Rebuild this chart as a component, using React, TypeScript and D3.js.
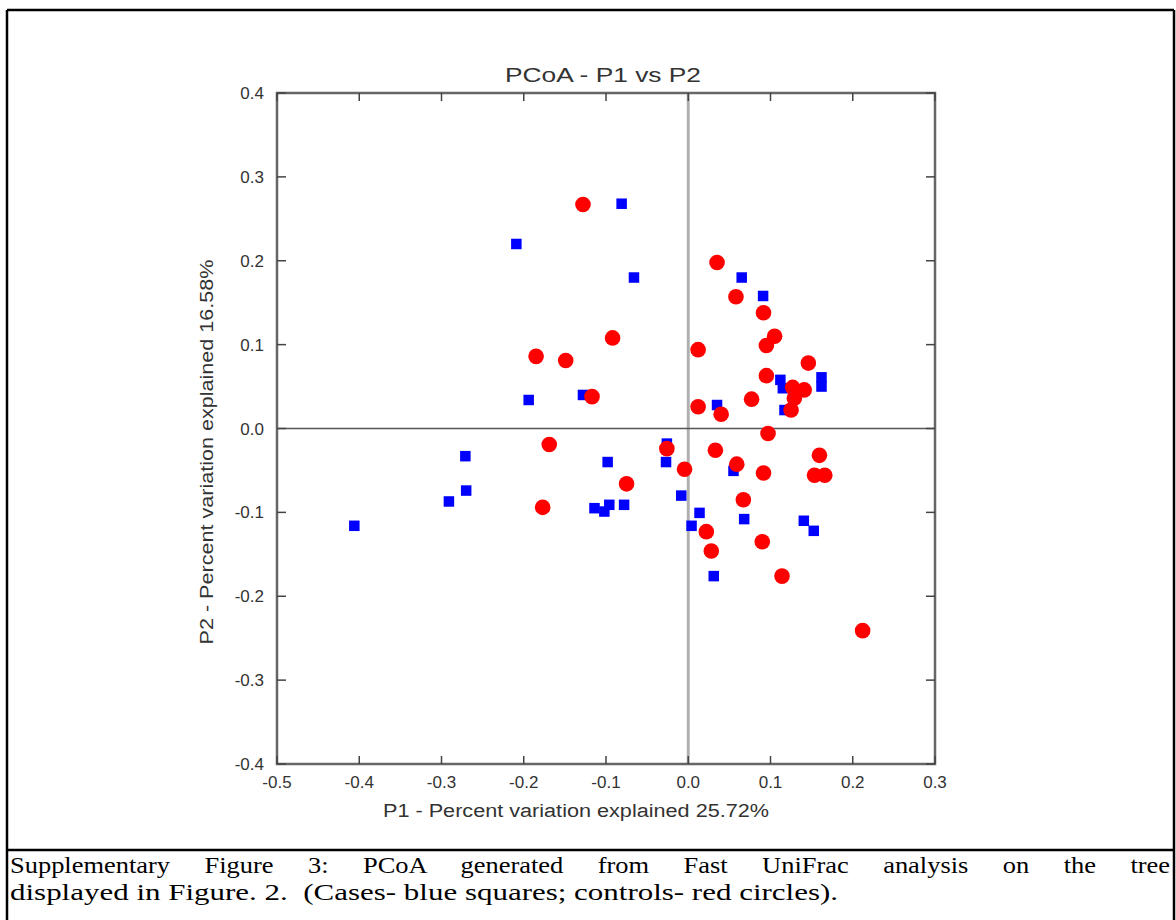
import React, { useEffect, useRef, useState } from "react";
import * as d3 from "d3";

const casesX = [-0.081, -0.209, -0.066, -0.194, -0.128, 0.065, 0.091, 0.112, 0.115, 0.162, 0.162, 0.117, 0.035, -0.271, -0.270, -0.291, -0.406, -0.098, -0.114, -0.102, -0.096, -0.078, -0.026, -0.027, -0.0085, 0.004, 0.0137, 0.055, 0.068, 0.1405, 0.1526, 0.031];
const casesY = [0.268, 0.220, 0.180, 0.034, 0.040, 0.180, 0.158, 0.058, 0.048, 0.061, 0.050, 0.022, 0.028, -0.033, -0.074, -0.087, -0.116, -0.040, -0.095, -0.099, -0.091, -0.091, -0.018, -0.040, -0.080, -0.116, -0.1006, -0.0505, -0.108, -0.110, -0.122, -0.176];

const controlsX = [-0.128, -0.092, -0.185, -0.149, -0.117, 0.035, 0.058, 0.0915, 0.105, 0.095, 0.012, 0.146, 0.095, 0.127, 0.141, 0.129, 0.125, 0.077, 0.012, 0.040, 0.097, -0.169, -0.177, -0.075, -0.026, -0.0045, 0.033, 0.059, 0.0915, 0.1595, 0.1535, 0.166, 0.067, 0.022, 0.090, 0.028, 0.114, 0.212];
const controlsY = [0.267, 0.108, 0.086, 0.081, 0.038, 0.198, 0.157, 0.138, 0.110, 0.099, 0.094, 0.078, 0.063, 0.049, 0.046, 0.036, 0.022, 0.035, 0.026, 0.017, -0.006, -0.019, -0.094, -0.066, -0.024, -0.0485, -0.026, -0.0425, -0.053, -0.032, -0.0557, -0.0557, -0.085, -0.123, -0.135, -0.146, -0.176, -0.241];

const xTicks = [-0.5, -0.4, -0.3, -0.2, -0.1, 0.0, 0.1, 0.2, 0.3];
const yTicks = [-0.4, -0.3, -0.2, -0.1, 0.0, 0.1, 0.2, 0.3, 0.4];
const xTickLabels = ["-0.5", "-0.4", "-0.3", "-0.2", "-0.1", "0.0", "0.1", "0.2", "0.3"];
const yTickLabels = ["-0.4", "-0.3", "-0.2", "-0.1", "0.0", "0.1", "0.2", "0.3", "0.4"];

const title = "PCoA - P1 vs P2";
const xLabel = "P1 - Percent variation explained 25.72%";
const yLabel = "P2 - Percent variation explained 16.58%";
const captionLine1 = "Supplementary Figure 3: PCoA generated from Fast UniFrac analysis on the tree";
const captionLine2 = "displayed in Figure. 2.  (Cases- blue squares; controls- red circles).";

const W = 1176;
const H = 920;
const L = 277, R = 935, T = 93, B = 764;
const CAP_SX = 1.15;

export default function App() {
  const x = d3.scaleLinear().domain([-0.5, 0.3]).range([L, R]);
  const y = d3.scaleLinear().domain([-0.4, 0.4]).range([B, T]);
  const capRef = useRef<SVGTextElement>(null);
  const [ws, setWs] = useState(0);

  useEffect(() => {
    const el = capRef.current;
    if (!el) return;
    const len = el.getComputedTextLength();
    const n = captionLine1.split(" ").length - 1;
    const target = (1170 - 10) / CAP_SX;
    setWs(Math.max(0, (target - len) / n));
  }, []);

  const sans = "'Liberation Sans', Arial, Helvetica, sans-serif";
  const serif = "'Liberation Serif', 'Times New Roman', serif";
  const sq = 10.5;

  return (
    <svg width={W} height={H} style={{ position: "absolute", left: 0, top: 0, background: "#fff" }}>
      <rect x={0} y={0} width={W} height={H} fill="#fff" />
      {/* outer figure box */}
      <line x1={7} y1={10} x2={7} y2={H + 5} stroke="#000" strokeWidth={2.5} />
      <line x1={7} y1={10} x2={1174} y2={10} stroke="#000" strokeWidth={2.5} />
      <line x1={1174} y1={10} x2={1174} y2={H + 5} stroke="#000" strokeWidth={2.5} />
      <line x1={7} y1={850} x2={1174} y2={850} stroke="#000" strokeWidth={2.5} />

      {/* title */}
      <text x={603} y={82} textAnchor="middle" fontFamily={sans} fontSize={20} fill="#333"
        textLength={196} lengthAdjust="spacingAndGlyphs">{title}</text>

      {/* zero lines */}
      <line x1={x(0)} x2={x(0)} y1={T} y2={B} stroke="#b0b0b0" strokeWidth={3} />
      <line x1={L} x2={R} y1={y(0)} y2={y(0)} stroke="#555" strokeWidth={1.5} />

      {/* frame */}
      <rect x={L} y={T} width={R - L} height={B - T} fill="none" stroke="#666" strokeWidth={2.5} />

      {/* ticks */}
      {xTicks.map((t, i) => (
        <g key={"xt" + i}>
          <line x1={x(t)} x2={x(t)} y1={B} y2={B - 8} stroke="#444" strokeWidth={1.5} />
          <line x1={x(t)} x2={x(t)} y1={T} y2={T + 8} stroke="#444" strokeWidth={1.5} />
          <text x={x(t)} y={788} textAnchor="middle" fontFamily={sans} fontSize={17} fill="#333">{xTickLabels[i]}</text>
        </g>
      ))}
      {yTicks.map((t, i) => (
        <g key={"yt" + i}>
          <line x1={L} x2={L + 9} y1={y(t)} y2={y(t)} stroke="#444" strokeWidth={1.5} />
          <line x1={R} x2={R - 9} y1={y(t)} y2={y(t)} stroke="#444" strokeWidth={1.5} />
          <text x={264} y={y(t) + 6} textAnchor="end" fontFamily={sans} fontSize={17} fill="#333">{yTickLabels[i]}</text>
        </g>
      ))}

      {/* axis labels */}
      <text x={576} y={817} textAnchor="middle" fontFamily={sans} fontSize={18} fill="#333"
        textLength={386} lengthAdjust="spacingAndGlyphs">{xLabel}</text>
      <text transform={`translate(213, 452) rotate(-90)`} x={0} y={0} textAnchor="middle" fontFamily={sans} fontSize={18} fill="#333"
        textLength={385} lengthAdjust="spacingAndGlyphs">{yLabel}</text>

      {/* points */}
      {casesX.map((v, i) => (
        <rect key={"c" + i} x={x(v) - sq / 2} y={y(casesY[i]) - sq / 2} width={sq} height={sq} fill="#0000ff" />
      ))}
      {controlsX.map((v, i) => (
        <circle key={"r" + i} cx={x(v)} cy={y(controlsY[i])} r={7.8} fill="#ff0000" />
      ))}

      {/* caption */}
      <g transform={`translate(10, 873) scale(${CAP_SX}, 1)`}>
        <text ref={capRef} x={0} y={0} fontFamily={serif} fontSize={23} fill="#000" style={{ wordSpacing: ws + "px" }}>{captionLine1}</text>
      </g>
      <text x={10} y={900} fontFamily={serif} fontSize={23} fill="#000" style={{ whiteSpace: "pre" }}
        textLength={828} lengthAdjust="spacingAndGlyphs">{captionLine2}</text>
    </svg>
  );
}
